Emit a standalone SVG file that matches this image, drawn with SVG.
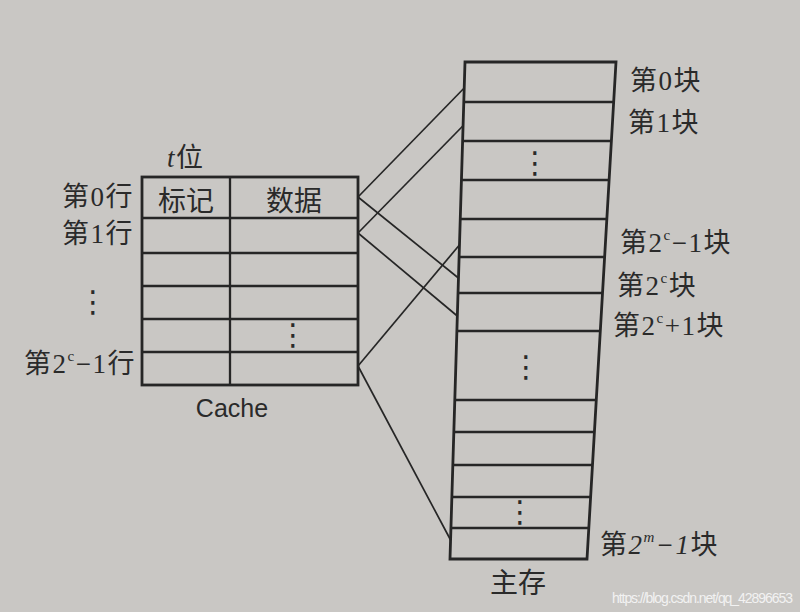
<svg xmlns="http://www.w3.org/2000/svg" width="800" height="612" viewBox="0 0 800 612">
<style>
.bg{fill:#c9c7c4}
.box{fill:none;stroke:#262626;stroke-width:2.8}
.div{stroke:#262626;stroke-width:2.3}
.con{stroke:#262626;stroke-width:1.7;fill:none}
.t{font-family:"Liberation Serif","Noto Sans CJK SC",serif;font-size:27px;letter-spacing:1.5px;fill:#2a2a2a}
.h{font-family:"Liberation Serif","Noto Sans CJK SC",serif;font-size:28px;fill:#2a2a2a}
.sup{font-size:15px}
.dots{font-family:"DejaVu Sans",sans-serif;font-size:30px;fill:#2a2a2a;text-anchor:middle}
.cap{font-family:"Liberation Sans",sans-serif;font-size:25px;fill:#2a2a2a;text-anchor:middle}
</style>
<rect class="bg" x="0" y="0" width="800" height="612"/>

<g id="cache">
<rect class="box" x="142" y="177" width="216" height="208"/>
<line class="div" x1="230" y1="177" x2="230" y2="385"/>
<line class="div" x1="142" y1="218" x2="358" y2="218"/>
<line class="div" x1="142" y1="253" x2="358" y2="253"/>
<line class="div" x1="142" y1="286" x2="358" y2="286"/>
<line class="div" x1="142" y1="319" x2="358" y2="319"/>
<line class="div" x1="142" y1="352" x2="358" y2="352"/>
<text class="h" x="186" y="211" text-anchor="middle">标记</text>
<text class="h" x="294" y="211" text-anchor="middle">数据</text>
<text class="dots" x="293" y="345">⋮</text>
<text class="t" x="167" y="167"><tspan font-style="italic">t</tspan>位</text>
<text class="t" x="134" y="206" text-anchor="end">第0行</text>
<text class="t" x="134" y="243" text-anchor="end">第1行</text>
<text class="dots" x="93" y="312">⋮</text>
<text class="t" x="136" y="373" text-anchor="end">第2<tspan class="sup" dy="-12">c</tspan><tspan dy="12">−1行</tspan></text>
<text class="cap" x="232" y="417">Cache</text>
</g>

<g id="memory">
<polygon class="box" points="465,62 616,62 587,559 450,559"/>
<line class="div" x1="463.8" y1="102" x2="613.7" y2="102"/>
<line class="div" x1="462.6" y1="141" x2="611.4" y2="141"/>
<line class="div" x1="461.4" y1="180" x2="609.1" y2="180"/>
<line class="div" x1="460.3" y1="219" x2="606.8" y2="219"/>
<line class="div" x1="459.1" y1="257" x2="604.6" y2="257"/>
<line class="div" x1="458.0" y1="293" x2="602.5" y2="293"/>
<line class="div" x1="456.9" y1="331" x2="600.3" y2="331"/>
<line class="div" x1="454.8" y1="400" x2="596.3" y2="400"/>
<line class="div" x1="453.8" y1="432" x2="594.4" y2="432"/>
<line class="div" x1="452.8" y1="465" x2="592.5" y2="465"/>
<line class="div" x1="451.9" y1="497" x2="590.6" y2="497"/>
<line class="div" x1="450.9" y1="528" x2="588.8" y2="528"/>
<text class="dots" x="535" y="173">⋮</text>
<text class="dots" x="526" y="377">⋮</text>
<text class="dots" x="520" y="522">⋮</text>
<text class="t" x="630" y="90">第0块</text>
<text class="t" x="628" y="132">第1块</text>
<text class="t" x="620" y="252">第2<tspan class="sup" dy="-12">c</tspan><tspan dy="12">−1块</tspan></text>
<text class="t" x="617" y="295">第2<tspan class="sup" dy="-12">c</tspan><tspan dy="12">块</tspan></text>
<text class="t" x="613" y="335">第2<tspan class="sup" dy="-12">c</tspan><tspan dy="12">+1块</tspan></text>
<text class="t" x="600" y="554">第<tspan font-style="italic">2</tspan><tspan class="sup" font-style="italic" dy="-12">m</tspan><tspan font-style="italic" dy="12">−1</tspan>块</text>
<text class="h" x="518" y="593" text-anchor="middle">主存</text>
</g>

<g id="connectors">
<line class="con" x1="358" y1="197" x2="464.2" y2="88"/>
<line class="con" x1="358" y1="197" x2="458.4" y2="278"/>
<line class="con" x1="358" y1="233" x2="462.8" y2="126"/>
<line class="con" x1="358" y1="233" x2="457.3" y2="316"/>
<line class="con" x1="358" y1="366" x2="459.4" y2="245"/>
<line class="con" x1="358" y1="366" x2="450.6" y2="540"/>
</g>

<text x="612" y="603" font-family="Liberation Sans, sans-serif" font-size="14" fill="#f2f2f2" textLength="181">https://blog.csdn.net/qq_42896653</text>
</svg>
